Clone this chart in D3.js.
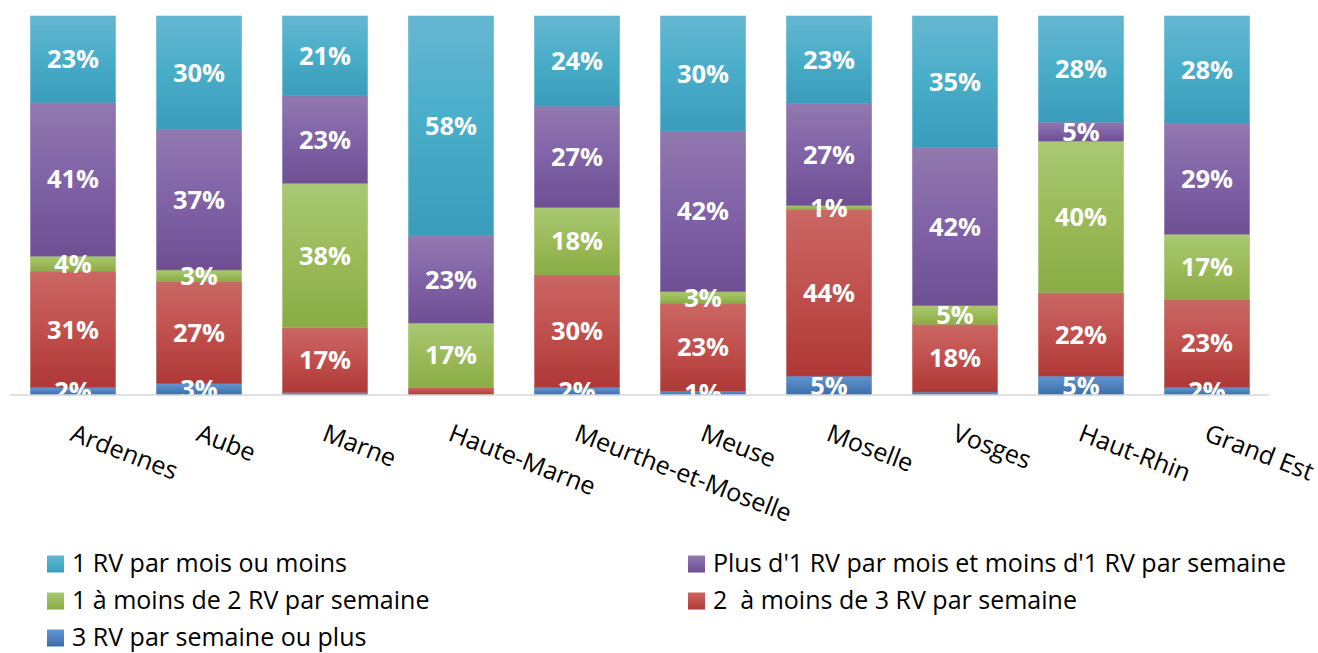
<!DOCTYPE html>
<html>
<head>
<meta charset="utf-8">
<script src="https://cdn.jsdelivr.net/npm/d3@7"></script>
<style>
  html, body { margin: 0; padding: 0; background: #ffffff; }
  svg { display: block; }
</style>
</head>
<body>
<svg id="chart" width="1318" height="653"></svg>
<script>
// ---------- DATA ----------
const categories = ["Ardennes", "Aube", "Marne", "Haute-Marne", "Meurthe-et-Moselle", "Meuse", "Moselle", "Vosges", "Haut-Rhin", "Grand Est"];
const seriesNames = [
  "1 RV par mois ou moins",
  "Plus d'1 RV par mois et moins d'1 RV par semaine",
  "1 à moins de 2 RV par semaine",
  "2  à moins de 3 RV par semaine",
  "3 RV par semaine ou plus"
];
const monthOrLess   = [23, 30, 21, 58, 24, 30, 23, 35, 28, 28];
const moreThanMonth = [41, 37, 23, 23, 27, 42, 27, 42, 5, 29];
const oneToTwo      = [4, 3, 38, 17, 18, 3, 1, 5, 40, 17];
const twoToThree    = [31, 27, 17, 2, 30, 23, 44, 18, 22, 23];
const threePlus     = [2, 3, 0.7, 0, 2, 1, 5, 0.8, 5, 2];
// labels not displayed on the original chart: [category, series index]
const hiddenLabels = [["Marne", 4], ["Haute-Marne", 3], ["Haute-Marne", 4], ["Vosges", 4]];

const seriesValues = [monthOrLess, moreThanMonth, oneToTwo, twoToThree, threePlus];
const colors = [
  ["#66b7d1", "#48adc9", "#3a9cbb"],
  ["#9279ae", "#8062a7", "#6f4f94"],
  ["#a8c873", "#9bbb59", "#89ac46"],
  ["#cb6764", "#c0504d", "#ae3835"],
  ["#6296d2", "#4f81bd", "#3b6dab"]
];

// ---------- LAYOUT ----------
const svg = d3.select("#chart");
const baseY = 395, topY = 16;
const x = d3.scaleBand().domain(categories).range([10, 1270]).paddingInner(0.325).paddingOuter(0.1625);
const y = d3.scaleLinear().domain([0, 1]).range([baseY, topY]);

// gradients
const defs = svg.append("defs");
colors.forEach((c, i) => {
  const g = defs.append("linearGradient").attr("id", "grad" + i)
    .attr("x1", 0).attr("y1", 0).attr("x2", 0).attr("y2", 1);
  g.append("stop").attr("offset", "0%").attr("stop-color", c[0]);
  g.append("stop").attr("offset", "50%").attr("stop-color", c[1]);
  g.append("stop").attr("offset", "100%").attr("stop-color", c[2]);
});

// build table for stacking
const keys = seriesNames.map((d, i) => "s" + i);
const table = categories.map((c, ci) => {
  const row = { cat: c };
  seriesValues.forEach((arr, si) => row["s" + si] = arr[ci]);
  return row;
});
// stack order: bottom = last series
const stack = d3.stack().keys(keys.slice().reverse()).offset(d3.stackOffsetExpand);
const stacked = stack(table);

const gBars = svg.append("g");
stacked.forEach(layer => {
  const si = +layer.key.slice(1);
  gBars.selectAll(null).data(layer).enter().append("rect")
    .attr("x", d => x(d.data.cat))
    .attr("width", x.bandwidth())
    .attr("y", d => y(d[1]))
    .attr("height", d => Math.max(0, y(d[0]) - y(d[1])))
    .attr("fill", "url(#grad" + si + ")")
    .attr("stroke", colors[si][1])
    .attr("stroke-opacity", 0.6)
    .attr("stroke-width", 0.8);
});

// value labels
const isHidden = (cat, si) => hiddenLabels.some(h => h[0] === cat && h[1] === si);
const gLab = svg.append("g");
stacked.forEach(layer => {
  const si = +layer.key.slice(1);
  gLab.selectAll(null).data(layer.filter(d => !isHidden(d.data.cat, si) && d.data[layer.key] > 0)).enter().append("text")
    .attr("x", d => x(d.data.cat) + x.bandwidth() / 2)
    .attr("y", d => (y(d[0]) + y(d[1])) / 2)
    .attr("dy", "0.36em")
    .attr("text-anchor", "middle")
    .attr("font-family", "'Open Sans', sans-serif")
    .attr("font-weight", "bold")
    .attr("font-size", 25.5)
    .attr("fill", "#ffffff")
    .text(d => Math.round(d.data[layer.key]) + "%");
});

// axis line
svg.append("line").attr("x1", 10).attr("x2", 1269).attr("y1", baseY).attr("y2", baseY)
  .attr("stroke", "#d9d9d9").attr("stroke-width", 1.5);

// x axis labels (rotated)
const xAxis = d3.axisBottom(x).tickSize(0).tickPadding(0);
const gx = svg.append("g").attr("transform", `translate(0,${baseY})`).call(xAxis);
gx.select(".domain").remove();
gx.selectAll(".tick text")
  .attr("font-family", "'Open Sans', sans-serif")
  .attr("font-size", 25)
  .attr("fill", "#000")
  .attr("text-anchor", "start")
  .attr("dy", 0).attr("y", 0)
  .attr("transform", "translate(-4,45) rotate(21)");

// legend
const legendItems = [
  { si: 0, x: 47, y: 564 },
  { si: 1, x: 688, y: 564 },
  { si: 2, x: 47, y: 601 },
  { si: 3, x: 688, y: 601 },
  { si: 4, x: 47, y: 638 }
];
const gLeg = svg.append("g");
legendItems.forEach(it => {
  gLeg.append("rect").attr("x", it.x).attr("y", it.y - 8.5).attr("width", 17).attr("height", 17)
    .attr("fill", "url(#grad" + it.si + ")");
  gLeg.append("text").attr("x", it.x + 25).attr("y", it.y).attr("dy", "0.33em")
    .attr("font-family", "'Open Sans', sans-serif").attr("font-size", 25)
    .style("white-space", "pre")
    .attr("fill", "#000").text(seriesNames[it.si]);
});
</script>
</body>
</html>
